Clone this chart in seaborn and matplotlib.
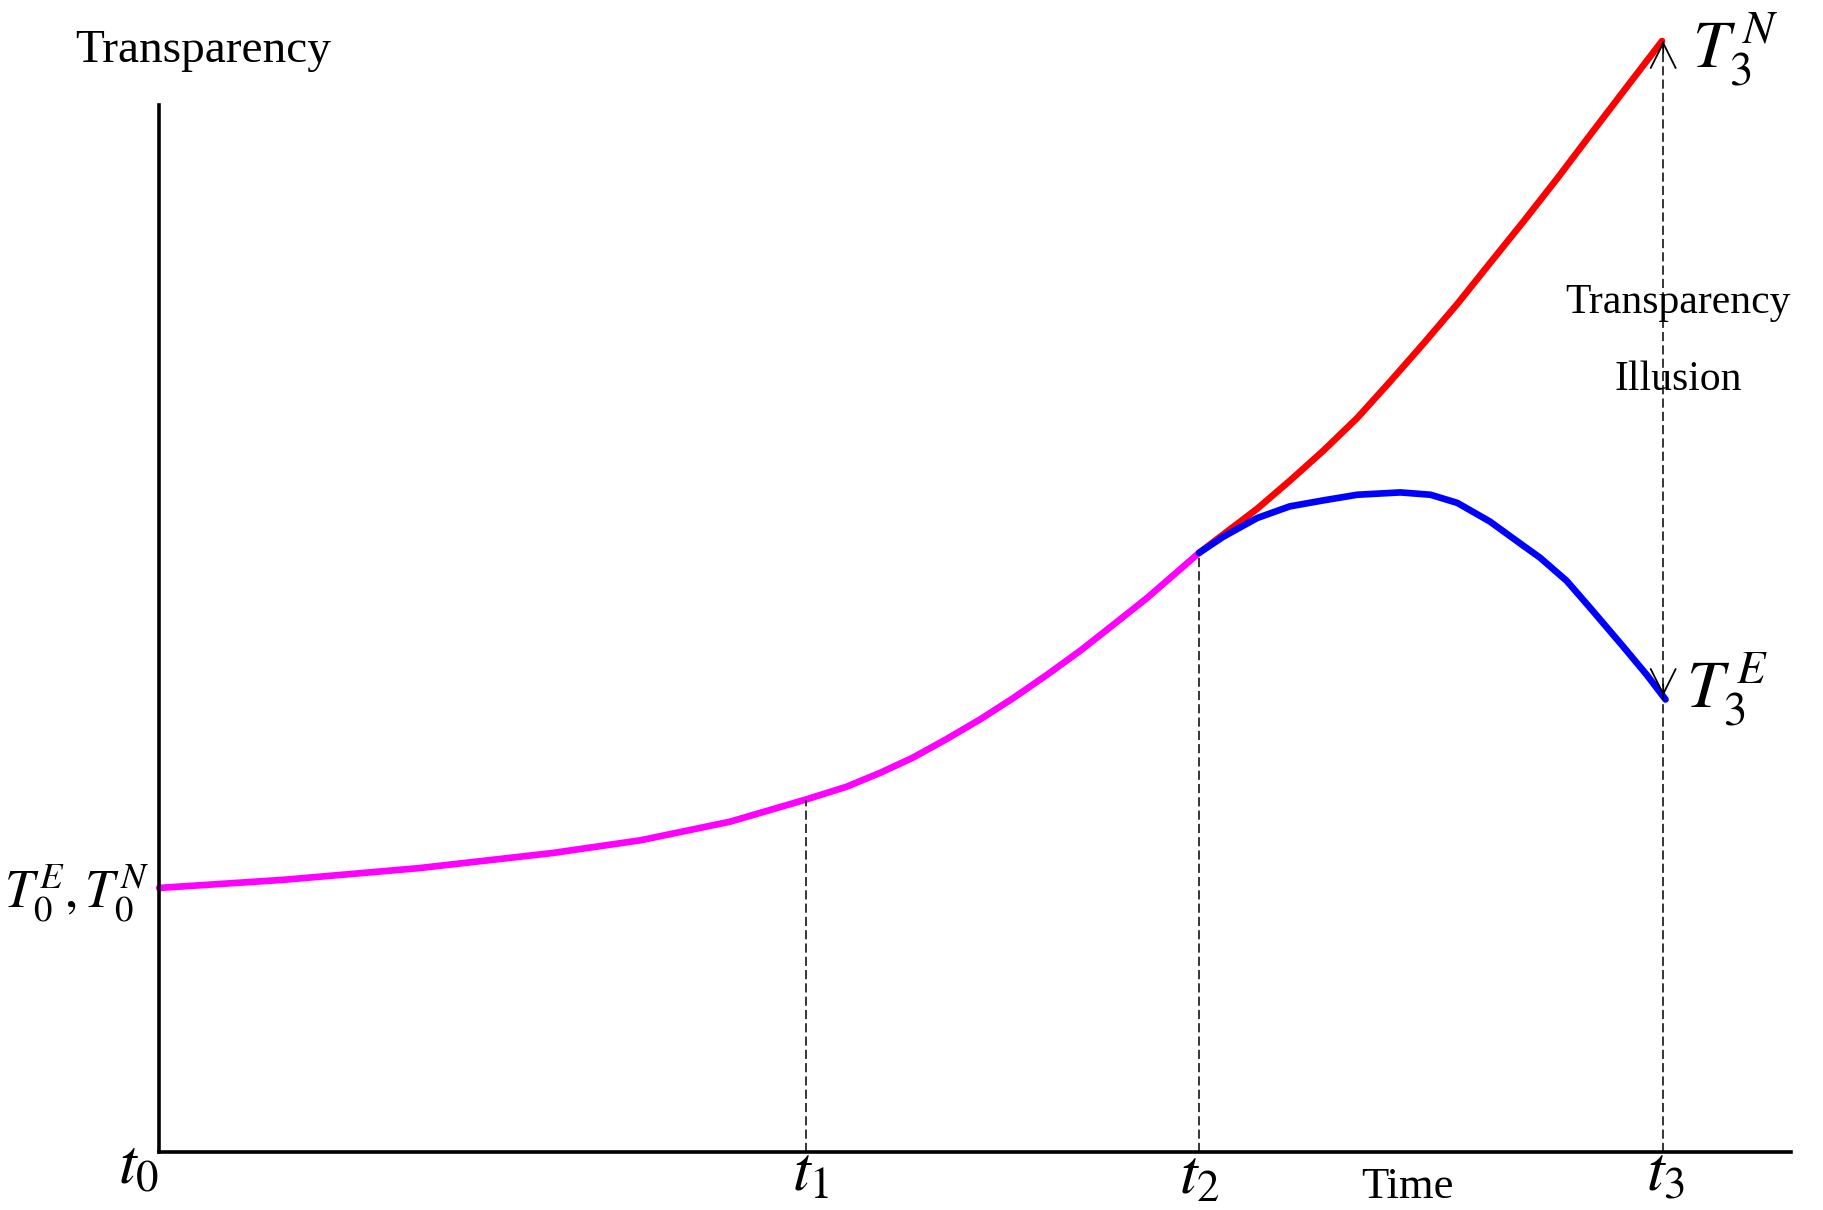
import numpy as np
import pandas as pd
import matplotlib
matplotlib.use("Agg")
import matplotlib.pyplot as plt
import seaborn as sns

# ---- data (arbitrary units: time position, transparency level) ----
t_pos = [0, 556, 894, 1293]
t_labels = [r"$t_0$", r"$t_1$", r"$t_2$", r"$t_3$"]

common_x = [0, 107, 223, 338, 414, 491, 556, 591, 620, 648, 677, 706, 734, 763, 792, 820, 849, 894]
common_y = [227, 234, 244, 257, 268, 284, 303, 314, 326, 339, 355, 372, 390, 410, 431, 453, 476, 515]

net_x = [894, 944, 972, 1001, 1030, 1058, 1087, 1116, 1144, 1173, 1202, 1230, 1259, 1292]
net_y = [515, 553, 577, 603, 631, 662, 695, 729, 764, 800, 837, 874, 912, 955]

exp_x = [894, 915, 944, 972, 1000, 1012, 1030, 1067, 1093, 1116, 1144, 1173, 1187, 1210, 1230, 1259, 1279, 1295]
exp_y = [515, 529, 545, 555, 560, 562, 565, 567, 565, 558, 542, 521, 511, 491, 468, 434, 410, 389]

sns.set_style("white")
plt.rcParams["font.family"] = ["Liberation Serif", "DejaVu Serif"]
plt.rcParams["mathtext.fontset"] = "stix"
plt.rcParams["text.color"] = "black"

fig = plt.figure(figsize=(18.24, 12.10), dpi=100)
ax = fig.add_axes([0.0872, 0.0479, 0.8948, 0.923])

df_c = pd.DataFrame({"x": common_x, "y": common_y})
df_n = pd.DataFrame({"x": net_x, "y": net_y})
df_e = pd.DataFrame({"x": exp_x, "y": exp_y})

lw = 4.8
sns.lineplot(data=df_c, x="x", y="y", color="#ff00ff", lw=lw, ax=ax, clip_on=False, sort=False)
sns.lineplot(data=df_n, x="x", y="y", color="#ff0000", lw=lw, ax=ax, clip_on=False, sort=False)
sns.lineplot(data=df_e, x="x", y="y", color="#0000ff", lw=lw, ax=ax, clip_on=False, sort=False)
for ln in ax.get_lines():
    ln.set_solid_joinstyle("round")

ax.set_xlim(0, 1403)
ax.set_ylim(0, 960)

# axes spines
for s in ["top", "right"]:
    ax.spines[s].set_visible(False)
ax.spines["left"].set_bounds(0, 900)
ax.spines["left"].set_linewidth(2.6)
ax.spines["bottom"].set_linewidth(2.6)
ax.spines["left"].set_color("black")
ax.spines["bottom"].set_color("black")
ax.set_xticks([])
ax.set_yticks([])
ax.set_xlabel("")
ax.set_ylabel("")

# dashed guides
dash = (0, (6, 2.7))
ax.vlines(t_pos[1], 0, common_y[6], colors="black", lw=1.1, linestyles=[dash])
ax.vlines(t_pos[2], 0, common_y[-1], colors="black", lw=1.1, linestyles=[dash])
ax.vlines(t_pos[3], 0, net_y[-1], colors="black", lw=1.1, linestyles=[dash], zorder=5)

# arrow heads at t3
ax.annotate("", xy=(t_pos[3], net_y[-1]), xytext=(t_pos[3], net_y[-1] - 10),
            arrowprops=dict(arrowstyle="->,head_length=0.9,head_width=0.45",
                            lw=1.3, color="black", shrinkA=0, shrinkB=0,
                            mutation_scale=20), zorder=6)
ax.annotate("", xy=(t_pos[3], exp_y[-1] + 3), xytext=(t_pos[3], exp_y[-1] + 13),
            arrowprops=dict(arrowstyle="->,head_length=0.9,head_width=0.45",
                            lw=1.3, color="black", shrinkA=0, shrinkB=0,
                            mutation_scale=20), zorder=6)

# time labels
offsets = [-18, 4, 0, 2]
ys = [-27, -33, -36, -33]
for p, lab, o, yy in zip(t_pos, t_labels, offsets, ys):
    ax.text(p + o, yy, lab, ha="center", va="baseline", fontsize=46, clip_on=False)

ax.text(1073, -30, "Time", ha="center", va="center", fontsize=32, clip_on=False)
ax.text(38, 947, "Transparency", ha="center", va="center", fontsize=34, clip_on=False)
ax.text(1306, 730, "Transparency", ha="center", va="center", fontsize=30, clip_on=False)
ax.text(1306, 664, "Illusion", ha="center", va="center", fontsize=30, clip_on=False)

ax.text(1318, 948, r"$T_3^{\,N}$", ha="left", va="center", fontsize=48, clip_on=False)
ax.text(1313, 398, r"$T_3^{\,E}$", ha="left", va="center", fontsize=48, clip_on=False)
fig.text(0.002, 0.262, r"$T_0^{E},T_0^{N}$", ha="left", va="center", fontsize=38)

fig.savefig("out.png", dpi=100)
